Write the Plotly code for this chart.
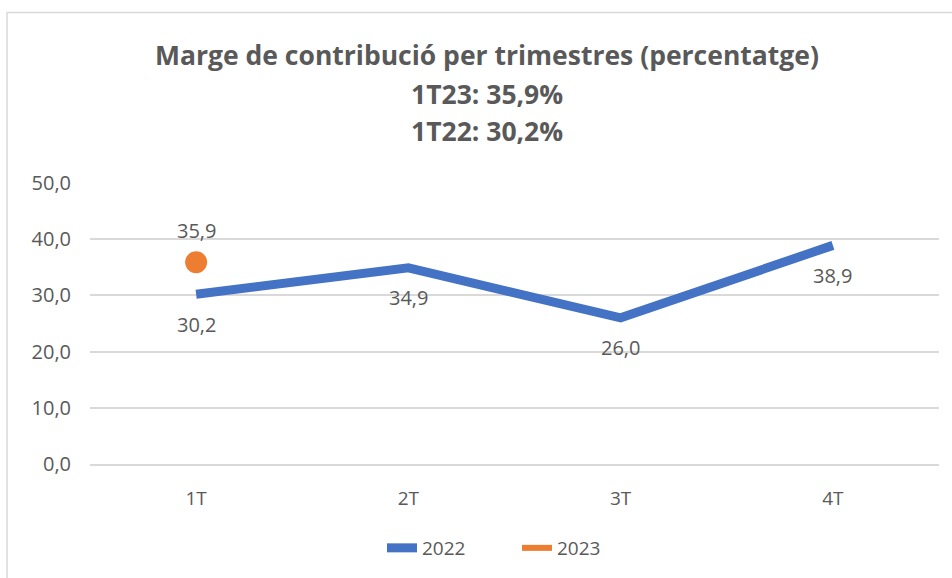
import plotly.graph_objects as go

categories = ["1T", "2T", "3T", "4T"]
values_2022 = [30.2, 34.9, 26.0, 38.9]
categories_2023 = ["1T"]
values_2023 = [35.9]
y_ticks = [0, 10, 20, 30, 40, 50]
y_tick_labels = ["0,0", "10,0", "20,0", "30,0", "40,0", "50,0"]
title_lines = ["Marge de contribució per trimestres (percentatge)", "1T23: 35,9%", "1T22: 30,2%"]

def fmt(v):
    return f"{v:.1f}".replace(".", ",")

FONT = "Open Sans"
GREY = "#595959"
BLUE = "#4472C4"
ORANGE = "#ED7D31"
GRID = "#D9D9D9"

W, H = 952, 578
ML, MR, MT, MB = 90, 13, 183, 113
PW = W - ML - MR
PH = H - MT - MB

def py(pix):
    # convert a pixel row to paper coordinate
    return (H - MB - pix) / PH

def px(pix):
    return (pix - ML) / PW

fig = go.Figure()
fig.add_trace(go.Scatter(
    x=categories, y=values_2022, name="2022", mode="lines",
    line=dict(color=BLUE, width=9),
))
fig.add_trace(go.Scatter(
    x=categories_2023, y=values_2023, name="2023", mode="lines",
    line=dict(color=ORANGE, width=6),
))
fig.add_trace(go.Scatter(
    x=categories_2023, y=values_2023, name="2023", mode="markers",
    marker=dict(color=ORANGE, size=22), showlegend=False,
))

annotations = []
for c, v in zip(categories, values_2022):
    annotations.append(dict(x=c, y=v, xref="x", yref="y", text=fmt(v), showarrow=False,
                            yanchor="middle", yshift=-30,
                            font=dict(size=20, color=GREY, family=FONT)))
for c, v in zip(categories_2023, values_2023):
    annotations.append(dict(x=c, y=v, xref="x", yref="y", text=fmt(v), showarrow=False,
                            yanchor="middle", yshift=32,
                            font=dict(size=20, color=GREY, family=FONT)))
for line, pix in zip(title_lines, [55, 94, 131]):
    annotations.append(dict(x=px(487), y=py(pix), xref="paper", yref="paper", text=f"<b>{line}</b>",
                            showarrow=False, xanchor="center", yanchor="middle",
                            font=dict(size=26.5, color=GREY, family=FONT)))

fig.update_layout(
    width=W, height=H,
    paper_bgcolor="white", plot_bgcolor="white",
    margin=dict(l=ML, r=MR, t=MT, b=MB),
    font=dict(family=FONT, color=GREY),
    showlegend=True,
    legend=dict(orientation="h", x=px(382), xanchor="left", y=py(548), yanchor="middle",
                entrywidth=90, entrywidthmode="pixels",
                font=dict(size=19, color=GREY, family=FONT)),
    annotations=annotations,
    shapes=[dict(type="rect", xref="paper", yref="paper",
                 x0=px(7), x1=1.2, y0=-1.0, y1=py(12),
                 line=dict(color=GRID, width=1.5), layer="below")],
)
fig.update_xaxes(type="category", range=[-0.5, 3.5], showgrid=False,
                 showline=True, linecolor=GRID, linewidth=1.5,
                 ticks="", ticklabelstandoff=16,
                 tickfont=dict(size=19, color=GREY, family=FONT))
fig.update_yaxes(range=[0, 50], tickvals=y_ticks, ticktext=y_tick_labels,
                 showgrid=True, gridcolor=GRID, gridwidth=1.5,
                 zeroline=False, showline=False, ticks="", ticklabelstandoff=18,
                 tickfont=dict(size=20, color=GREY, family=FONT))
fig.write_html("out.html", config={"displayModeBar": False},
               post_script="document.body.style.margin='0px';")
